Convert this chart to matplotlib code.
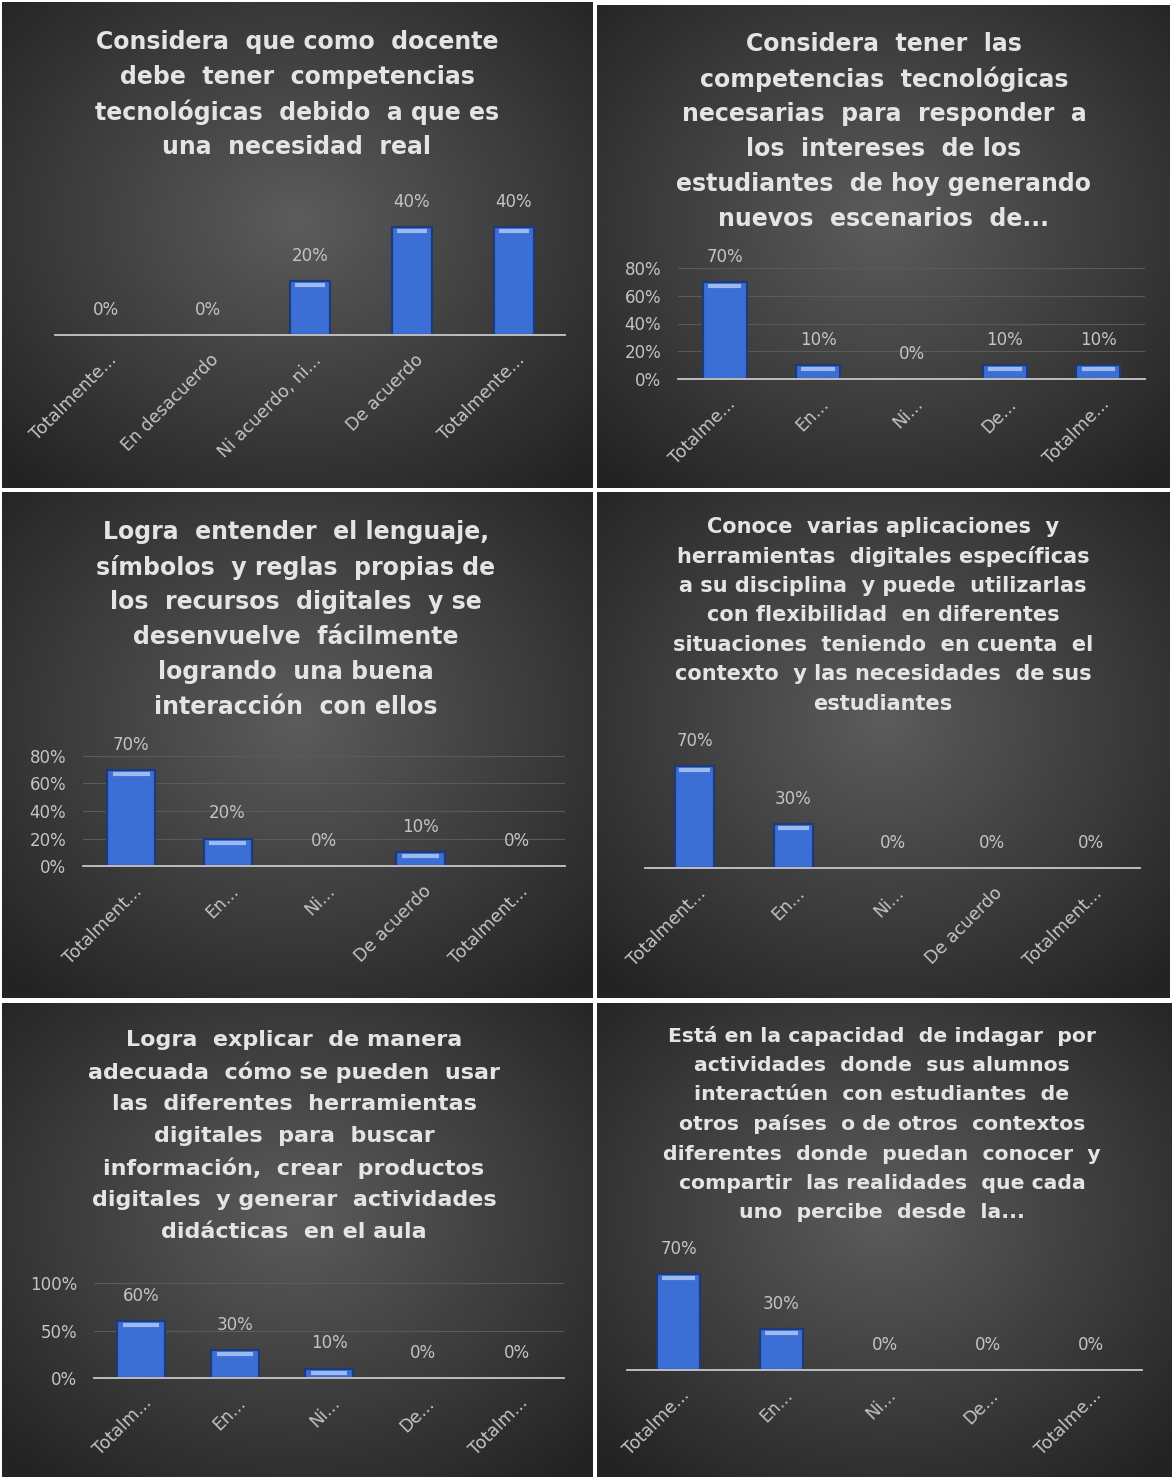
import matplotlib
matplotlib.use("Agg")
import matplotlib.pyplot as plt
import matplotlib.transforms as mtransforms
import numpy as np

W, H = 1172, 1479

# Datos de las seis preguntas
titulos = [
    ["Considera  que como  docente", "debe  tener  competencias",
     "tecnológicas  debido  a que es", "una  necesidad  real"],
    ["Considera  tener  las", "competencias  tecnológicas",
     "necesarias  para  responder  a", "los  intereses  de los",
     "estudiantes  de hoy generando", "nuevos  escenarios  de..."],
    ["Logra  entender  el lenguaje,", "símbolos  y reglas  propias de",
     "los  recursos  digitales  y se", "desenvuelve  fácilmente",
     "logrando  una buena", "interacción  con ellos"],
    ["Conoce  varias aplicaciones  y", "herramientas  digitales específicas",
     "a su disciplina  y puede  utilizarlas", "con flexibilidad  en diferentes",
     "situaciones  teniendo  en cuenta  el", "contexto  y las necesidades  de sus",
     "estudiantes"],
    ["Logra  explicar  de manera", "adecuada  cómo se pueden  usar",
     "las  diferentes  herramientas", "digitales  para  buscar",
     "información,  crear  productos", "digitales  y generar  actividades",
     "didácticas  en el aula"],
    ["Está en la capacidad  de indagar  por", "actividades  donde  sus alumnos",
     "interactúen  con estudiantes  de", "otros  países  o de otros  contextos",
     "diferentes  donde  puedan  conocer  y", "compartir  las realidades  que cada",
     "uno  percibe  desde  la..."],
]

etiquetas = [
    ["Totalmente...", "En desacuerdo", "Ni acuerdo, ni...", "De acuerdo", "Totalmente..."],
    ["Totalme...", "En...", "Ni...", "De...", "Totalme..."],
    ["Totalment...", "En...", "Ni...", "De acuerdo", "Totalment..."],
    ["Totalment...", "En...", "Ni...", "De acuerdo", "Totalment..."],
    ["Totalm...", "En...", "Ni...", "De...", "Totalm..."],
    ["Totalme...", "En...", "Ni...", "De...", "Totalme..."],
]

valores = [
    [0.0, 0.0, 0.2, 0.4, 0.4],
    [0.7, 0.1, 0.0, 0.1, 0.1],
    [0.7, 0.2, 0.0, 0.1, 0.0],
    [0.7, 0.3, 0.0, 0.0, 0.0],
    [0.6, 0.3, 0.1, 0.0, 0.0],
    [0.7, 0.3, 0.0, 0.0, 0.0],
]

yticks = [None, [0, 0.2, 0.4, 0.6, 0.8], [0, 0.2, 0.4, 0.6, 0.8], None,
          [0, 0.5, 1.0], None]

# Disposición en píxeles: panel, área de ejes, título
paneles = [(2, 2, 592, 488), (597, 5, 1170, 488), (2, 492, 592, 998),
           (597, 492, 1170, 998), (2, 1003, 592, 1477), (597, 1003, 1172, 1477)]
ejes = [(55, 213, 565, 335), (678, 268, 1145, 379), (83, 756, 565, 866),
        (645, 751, 1140, 868), (94, 1283, 564, 1378), (627, 1260, 1142, 1370)]
ylims = [0.45, 0.8, 0.8, 0.8, 1.0, 0.8]
titulo_pos = [(297, 42, 35, 17), (884, 44, 35, 17), (296, 532, 35, 17),
              (883, 527, 29.5, 15), (294, 1040, 32, 16), (882, 1036, 29.5, 14.7)]
anchos = [0.39, 0.47, 0.5, 0.4, 0.51, 0.41]


def rect(x0, y0, x1, y1):
    return [x0 / W, 1 - y1 / H, (x1 - x0) / W, (y1 - y0) / H]


fig = plt.figure(figsize=(W / 100, H / 100), dpi=100, facecolor="white")

# Fondo degradado radial (gris oscuro)
yy, xx = np.mgrid[-1:1:200j, -1:1:200j]
rr = np.sqrt(xx ** 2 + (yy + 0.1) ** 2)
grad = np.clip(1 - rr / 1.4, 0, 1)
nivel = 0.14 + 0.22 * grad
fondo = np.dstack([nivel, nivel, nivel])

for i in range(6):
    bg = fig.add_axes(rect(*paneles[i]))
    bg.imshow(fondo, aspect="auto", interpolation="bilinear")
    bg.set_axis_off()

    cx, y0, dy, fs = titulo_pos[i]
    for k, linea in enumerate(titulos[i]):
        fig.text(cx / W, 1 - (y0 + k * dy) / H, linea, ha="center", va="center",
                 fontsize=fs, fontweight="bold", color="#e4e4e4",
                 family="DejaVu Sans")

    ax = fig.add_axes(rect(*ejes[i]))
    ax.patch.set_alpha(0)
    x = np.arange(5)
    bordes = ["#1d3a7a" if v > 0 else "none" for v in valores[i]]
    bars = ax.bar(x, valores[i], width=anchos[i], color="#3c6fd6",
                  edgecolor=bordes, linewidth=1.6, zorder=3)
    # brillo superior (bisel)
    bajar = mtransforms.ScaledTranslation(0, -3 / 72, fig.dpi_scale_trans)
    for b, v in zip(bars, valores[i]):
        if v > 0:
            w = b.get_width()
            ax.hlines(v, b.get_x() + w * 0.12, b.get_x() + w * 0.88,
                      color="#9dbaf0", linewidth=3, zorder=4,
                      transform=ax.transData + bajar)
    ax.set_xlim(-0.5, 4.5)
    ax.set_ylim(0, ylims[i])
    for s in ["top", "right", "left"]:
        ax.spines[s].set_visible(False)
    ax.spines["bottom"].set_color("#c8c8c8")
    ax.spines["bottom"].set_linewidth(1.3)
    ax.spines["bottom"].set_zorder(5)

    for b, v in zip(bars, valores[i]):
        ax.annotate(f"{v:.0%}", (b.get_x() + b.get_width() / 2, v),
                    xytext=(0, 18), textcoords="offset points",
                    ha="center", va="center", fontsize=12, color="#c4c4c4")

    if yticks[i] is not None:
        ax.set_yticks(yticks[i])
        ax.set_yticklabels([f"{t:.0%}" for t in yticks[i]])
        ax.grid(axis="y", color="#5a5a5a", linewidth=0.8, zorder=0)
        ax.tick_params(axis="y", length=0, pad=12, labelsize=12,
                       labelcolor="#c4c4c4")
    else:
        ax.set_yticks([])

    ax.set_xticks(x)
    ax.set_xticklabels(etiquetas[i], rotation=45, ha="right", va="center",
                       rotation_mode="anchor", fontsize=12.5, color="#c4c4c4")
    ax.tick_params(axis="x", length=0, pad=16)
    off = mtransforms.ScaledTranslation(6 / 72, 0, fig.dpi_scale_trans)
    for lab in ax.get_xticklabels():
        lab.set_transform(lab.get_transform() + off)

fig.savefig("out.png", dpi=100, facecolor="white")
